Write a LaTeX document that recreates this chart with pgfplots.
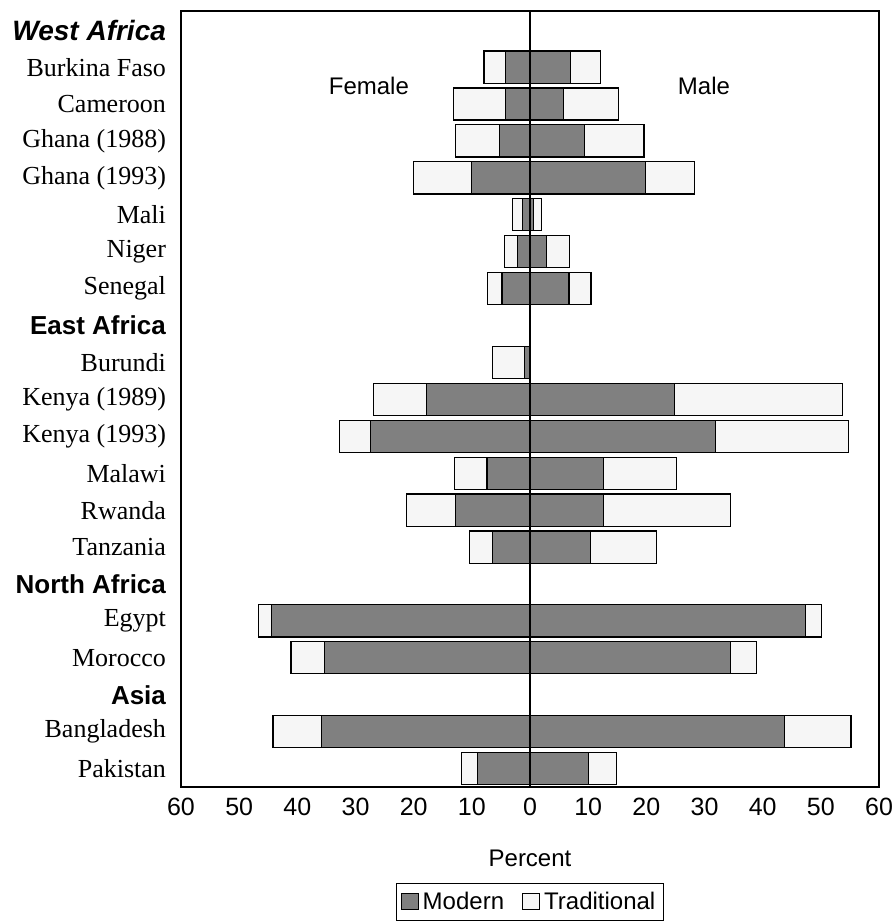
\documentclass[border=0pt]{standalone}
\usepackage{fontspec}
\setmainfont{Liberation Serif}
\setsansfont{Liberation Sans}
\usepackage{pgfplots}
\pgfplotsset{compat=1.18}
\definecolor{modern}{RGB}{128,128,128}
\definecolor{trad}{RGB}{246,246,246}
\newcommand\hd[1]{{\sffamily\bfseries\fontsize{13}{15}\selectfont #1}}
\begin{document}
\begin{tikzpicture}
\begin{axis}[
  scale only axis, width=349pt, height=388pt,
  xmin=-60, xmax=60, ymin=-0.52, ymax=20.5, y dir=reverse,
  xbar, bar shift=0pt, bar width=0.87,
  axis line style={line width=0.6pt},
  xtick={-60,-50,...,60},
  xticklabels={60,50,40,30,20,10,0,10,20,30,40,50,60},
  major tick length=0pt,
  ytick={0,...,20},
  yticklabels={{\sffamily\bfseries\itshape\fontsize{14}{16}\selectfont West Africa},Burkina Faso,Cameroon,Ghana (1988),Ghana (1993),Mali,Niger,Senegal,\hd{East Africa},Burundi,Kenya (1989),Kenya (1993),Malawi,Rwanda,Tanzania,\hd{North Africa},Egypt,Morocco,\hd{Asia},Bangladesh,Pakistan},
  yticklabel style={font=\rmfamily\fontsize{13}{15}\selectfont, anchor=east, xshift=-4pt},
  xticklabel style={font=\sffamily\fontsize{12.5}{14}\selectfont, yshift=-2pt},
  /pgf/number format/assume math mode=true,
  xlabel={Percent},
  xlabel style={font=\sffamily\fontsize{12}{14}\selectfont, at={(axis description cs:0.5,-0.092)}, anchor=center},
  legend columns=2,
  legend style={at={(0.5,-0.148)}, anchor=center, draw=black, line width=0.5pt,
    font=\sffamily\fontsize{12}{14}\selectfont, inner sep=2pt,
    /tikz/every even column/.append style={column sep=7pt}},
  legend image code/.code={\draw[#1, line width=0.5pt] (0cm,-0.14cm) rectangle (0.3cm,0.14cm);},
]
% Traditional (total) bars, female (negative)
\addplot[fill=trad, draw=black, line width=0.6pt, forget plot] coordinates {
(-7.9,1) (-13.1,2) (-12.8,3) (-20.0,4) (-3.0,5) (-4.4,6) (-7.3,7)
(-6.5,9) (-26.9,10) (-32.7,11) (-13.0,12) (-21.2,13) (-10.4,14)
(-46.7,16) (-41.1,17) (-44.2,19) (-11.8,20)};
% Traditional (total) bars, male
\addplot[fill=trad, draw=black, line width=0.6pt, forget plot] coordinates {
(12.1,1) (15.2,2) (19.6,3) (28.3,4) (2.0,5) (6.8,6) (10.5,7)
(53.7,10) (54.7,11) (25.2,12) (34.4,13) (21.8,14)
(50.1,16) (38.9,17) (55.2,19) (14.9,20)};
% Modern, female
\addplot[fill=modern, draw=black, line width=0.6pt, forget plot] coordinates {
(-4.2,1) (-4.2,2) (-5.2,3) (-10.0,4) (-1.3,5) (-2.2,6) (-4.8,7)
(-1.0,9) (-17.8,10) (-27.4,11) (-7.4,12) (-12.8,13) (-6.5,14)
(-44.5,16) (-35.3,17) (-35.9,19) (-9.0,20)};
% Modern, male
\addplot[fill=modern, draw=black, line width=0.6pt, forget plot] coordinates {
(7.0,1) (5.8,2) (9.4,3) (19.9,4) (0.6,5) (2.8,6) (6.7,7)
(24.9,10) (31.9,11) (12.6,12) (12.6,13) (10.4,14)
(47.4,16) (34.5,17) (43.8,19) (10.0,20)};
\addlegendimage{fill=modern, draw=black}
\addlegendentry{Modern}
\addlegendimage{fill=trad, draw=black}
\addlegendentry{Traditional}
\draw[black, line width=0.6pt] (axis cs:0,-0.52) -- (axis cs:0,20.5);
\node[font=\sffamily\fontsize{12}{14}\selectfont] at (axis cs:-27.7,1.5) {Female};
\node[font=\sffamily\fontsize{12}{14}\selectfont] at (axis cs:29.9,1.5) {Male};
\path (axis description cs:0,1) ++(-90.5pt,5.5pt) coordinate (bbTL);
\path (axis description cs:1,0) ++(7.5pt,-68pt) coordinate (bbBR);
\end{axis}
\pgfresetboundingbox
\path[use as bounding box] (bbTL) rectangle (bbBR);
\end{tikzpicture}
\end{document}
